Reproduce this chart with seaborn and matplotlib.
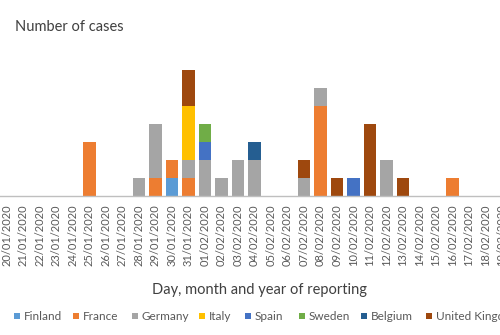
import matplotlib
matplotlib.use("Agg")
import matplotlib.pyplot as plt
from matplotlib.patches import Rectangle
import numpy as np
import pandas as pd
import seaborn as sns

dates = ["20/01/2020", "21/01/2020", "22/01/2020", "23/01/2020", "24/01/2020",
         "25/01/2020", "26/01/2020", "27/01/2020", "28/01/2020", "29/01/2020",
         "30/01/2020", "31/01/2020", "01/02/2020", "02/02/2020", "03/02/2020",
         "04/02/2020", "05/02/2020", "06/02/2020", "07/02/2020", "08/02/2020",
         "09/02/2020", "10/02/2020", "11/02/2020", "12/02/2020", "13/02/2020",
         "14/02/2020", "15/02/2020", "16/02/2020", "17/02/2020", "18/02/2020",
         "19/02/2020"]

#           20 21 22 23 24 25 26 27 28 29 30 31 01 02 03 04 05 06 07 08 09 10 11 12 13 14 15 16 17 18 19
finland  = [0, 0, 0, 0, 0, 0, 0, 0, 0, 0, 1, 0, 0, 0, 0, 0, 0, 0, 0, 0, 0, 0, 0, 0, 0, 0, 0, 0, 0, 0, 0]
france   = [0, 0, 0, 0, 0, 3, 0, 0, 0, 1, 1, 1, 0, 0, 0, 0, 0, 0, 0, 5, 0, 0, 0, 0, 0, 0, 0, 1, 0, 0, 0]
germany  = [0, 0, 0, 0, 0, 0, 0, 0, 1, 3, 0, 1, 2, 1, 2, 2, 0, 0, 1, 1, 0, 0, 0, 2, 0, 0, 0, 0, 0, 0, 0]
italy    = [0, 0, 0, 0, 0, 0, 0, 0, 0, 0, 0, 3, 0, 0, 0, 0, 0, 0, 0, 0, 0, 0, 0, 0, 0, 0, 0, 0, 0, 0, 0]
spain    = [0, 0, 0, 0, 0, 0, 0, 0, 0, 0, 0, 0, 1, 0, 0, 0, 0, 0, 0, 0, 0, 1, 0, 0, 0, 0, 0, 0, 0, 0, 0]
sweden   = [0, 0, 0, 0, 0, 0, 0, 0, 0, 0, 0, 0, 1, 0, 0, 0, 0, 0, 0, 0, 0, 0, 0, 0, 0, 0, 0, 0, 0, 0, 0]
belgium  = [0, 0, 0, 0, 0, 0, 0, 0, 0, 0, 0, 0, 0, 0, 0, 1, 0, 0, 0, 0, 0, 0, 0, 0, 0, 0, 0, 0, 0, 0, 0]
uk       = [0, 0, 0, 0, 0, 0, 0, 0, 0, 0, 0, 2, 0, 0, 0, 0, 0, 0, 1, 0, 1, 0, 4, 0, 1, 0, 0, 0, 0, 0, 0]

countries = ["Finland", "France", "Germany", "Italy", "Spain", "Sweden", "Belgium", "United Kingdom"]
series = [finland, france, germany, italy, spain, sweden, belgium, uk]
colors = ["#5B9BD5", "#ED7D31", "#A5A5A5", "#FFC000", "#4472C4", "#70AD47", "#255E91", "#9E480E"]

sns.set_style("white")
plt.rcParams["font.family"] = ["Lato", "DejaVu Sans"]

text_col = "#595959"
W, H = 500, 335

fig = plt.figure(figsize=(5, 3.35), dpi=100)
ax = fig.add_axes([-0.0025, 0.415, 1.023, 0.43])

cum = np.cumsum(np.array(series), axis=0)
# Draw stacked bars: tallest cumulative first, then lower layers on top
for i in reversed(range(len(countries))):
    df = pd.DataFrame({"date": dates, "value": cum[i]})
    sns.barplot(data=df, x="date", y="value", order=dates, color=colors[i],
                saturation=1, width=0.73, ax=ax, linewidth=0)

ax.set_xlim(-0.5, len(dates) - 0.5)
ax.set_ylim(0, 8)
for s in ["top", "right", "left"]:
    ax.spines[s].set_visible(False)
ax.spines["bottom"].set_color("#BFBFBF")
ax.spines["bottom"].set_linewidth(1)
ax.set_yticks([])
ax.set_ylabel("")

ax.set_xticks(range(len(dates)))
ax.set_xticklabels(dates, rotation=90, fontsize=8, color=text_col)
ax.tick_params(axis="x", which="major", length=0, pad=6)
ax.set_xticks(np.arange(-0.5, len(dates), 1.0), minor=True)
ax.tick_params(axis="x", which="minor", length=5, color="#BFBFBF", width=1, direction="out")

ax.set_xlabel("Day, month and year of reporting", fontsize=10.5, color="#404040")
ax.xaxis.label.set_va("center")
ax.xaxis.set_label_coords(0.51, -0.653)

fig.text(15 / W, 1 - 27 / H, "Number of cases", fontsize=10.5, color="#404040",
         va="center", ha="left")

# Legend (entries placed along the bottom row, clipped at the right edge like the original)
legend_x = [14, 73, 132, 199, 245, 299, 361, 426]
legend_y = 316
sq = 6
for name, col, lx in zip(countries, colors, legend_x):
    fig.add_artist(Rectangle((lx / W, (H - legend_y - sq / 2) / H), sq / W, sq / H,
                             transform=fig.transFigure, facecolor=col, edgecolor="none"))
    fig.text((lx + 10) / W, 1 - legend_y / H, name, fontsize=8.5, color=text_col,
             va="center", ha="left")

fig.savefig("out.png", dpi=100)
